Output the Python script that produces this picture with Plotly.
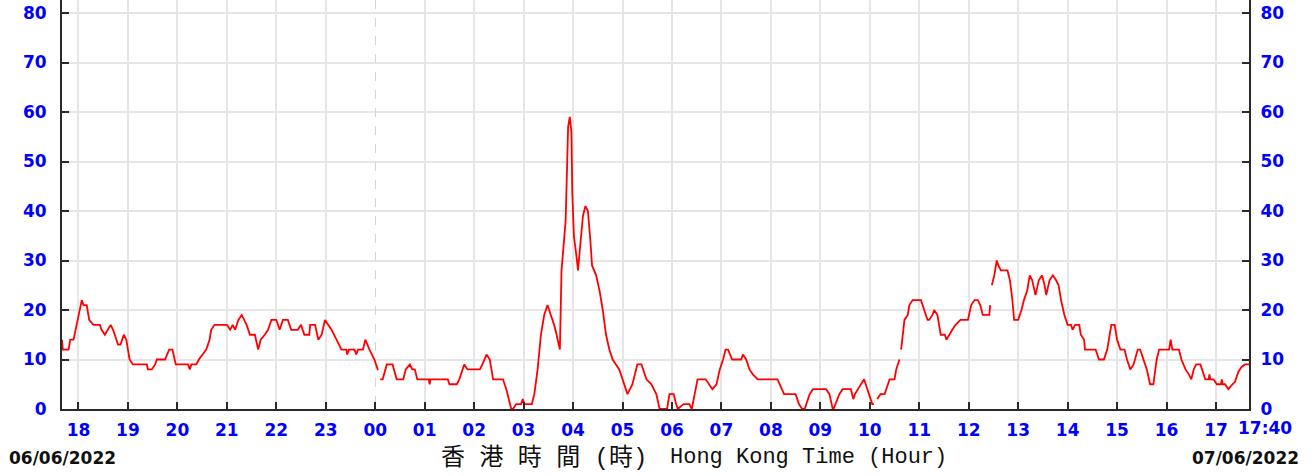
import pandas as pd
import plotly.graph_objects as go

# Wind speed record, 06/06/2022 17:40 to 07/06/2022 17:40 (Hong Kong Time)
START = "2022-06-06 17:40"
END = "2022-06-07 17:40"

times = [
    "17:40", "17:41", "17:48", "17:50", "17:54", "18:00", "18:04", "18:06", "18:10", "18:13",
    "18:18", "18:26", "18:28", "18:32", "18:35", "18:39", "18:42", "18:46", "18:48", "18:51",
    "18:55", "18:58", "19:02", "19:06", "19:23", "19:24", "19:29", "19:33", "19:35", "19:45",
    "19:48", "19:50", "19:54", "19:58", "20:13", "20:15", "20:17", "20:23", "20:26", "20:31",
    "20:35", "20:39", "20:41", "20:45", "20:51", "21:00", "21:04", "21:07", "21:10", "21:14",
    "21:18", "21:24", "21:28", "21:34", "21:38", "21:41", "21:46", "21:50", "21:54", "22:00",
    "22:04", "22:08", "22:14", "22:18", "22:26", "22:30", "22:34", "22:40", "22:41", "22:47",
    "22:51", "22:55", "22:59", "23:03", "23:07", "23:13", "23:19", "23:25", "23:26", "23:28",
    "23:35", "23:37", "23:39", "23:45", "23:48", "23:53", "23:59", "00:03", "00:04", "00:05",
    "00:06", "00:09", "00:14", "00:21", "00:26", "00:34", "00:37", "00:42", "00:45", "00:48",
    "00:51", "01:05", "01:06", "01:07", "01:28", "01:30", "01:39", "01:42", "01:44", "01:48",
    "01:52", "02:07", "02:10", "02:15", "02:19", "02:23", "02:35", "02:39", "02:45", "02:47",
    "02:51", "02:57", "02:59", "03:01", "03:10", "03:13", "03:17", "03:21", "03:25", "03:29",
    "03:33", "03:37", "03:40", "03:43", "03:44", "03:45", "03:46", "03:51", "03:53", "03:54",
    "03:56", "03:58", "03:59", "04:01", "04:04", "04:06", "04:07", "04:10", "04:12", "04:15",
    "04:18", "04:21", "04:23", "04:28", "04:32", "04:36", "04:40", "04:44", "04:48", "04:52",
    "04:56", "05:00", "05:06", "05:12", "05:18", "05:23", "05:29", "05:35", "05:41", "05:45",
    "05:54", "05:57", "06:02", "06:05", "06:07", "06:14", "06:21", "06:24", "06:31", "06:41",
    "06:49", "06:54", "06:58", "07:02", "07:05", "07:08", "07:13", "07:24", "07:26", "07:30",
    "07:34", "07:38", "07:44", "08:08", "08:14", "08:16", "08:30", "08:34", "08:38", "08:41",
    "08:47", "08:51", "09:07", "09:11", "09:15", "09:16", "09:23", "09:27", "09:37", "09:40",
    "09:42", "09:49", "09:53", "09:57", "10:01", "10:03", "10:05", "10:07", "10:09", "10:13",
    "10:18", "10:24", "10:30", "10:32", "10:36", "10:37", "10:38", "10:40", "10:42", "10:46",
    "10:48", "10:52", "11:02", "11:06", "11:10", "11:12", "11:16", "11:18", "11:22", "11:26",
    "11:31", "11:33", "11:36", "11:40", "11:44", "11:50", "11:54", "11:59", "12:03", "12:07",
    "12:11", "12:14", "12:17", "12:25", "12:26", "12:27", "12:28", "12:31", "12:34", "12:36",
    "12:39", "12:47", "12:50", "12:53", "12:55", "13:00", "13:04", "13:07", "13:11", "13:14",
    "13:17", "13:21", "13:25", "13:29", "13:32", "13:34", "13:38", "13:42", "13:46", "13:49",
    "13:52", "13:56", "14:00", "14:04", "14:06", "14:09", "14:14", "14:16", "14:20", "14:21",
    "14:34", "14:38", "14:44", "14:48", "14:51", "14:53", "14:57", "15:00", "15:04", "15:09",
    "15:12", "15:16", "15:20", "15:25", "15:28", "15:32", "15:36", "15:40", "15:44", "15:48",
    "15:51", "16:03", "16:05", "16:07", "16:15", "16:18", "16:23", "16:27", "16:30", "16:33",
    "16:36", "16:41", "16:43", "16:47", "16:51", "16:52", "16:53", "16:57", "17:01", "17:06",
    "17:07", "17:08", "17:11", "17:15", "17:20", "17:23", "17:27", "17:31", "17:35", "17:40",
]

speeds = [
    14, 12, 12, 14, 14, 19, 22, 21, 21, 18,
    17, 17, 16, 15, 16, 17, 16, 14, 13, 13,
    15, 14, 10, 9, 9, 8, 8, 9, 10, 10,
    11, 12, 12, 9, 9, 8, 9, 9, 10, 11,
    12, 14, 16, 17, 17, 17, 16, 17, 16, 18,
    19, 17, 15, 15, 12, 14, 15, 16, 18, 18,
    16, 18, 18, 16, 16, 17, 15, 15, 17, 17,
    14, 15, 18, 17, 16, 14, 12, 12, 11, 12,
    12, 11, 12, 12, 14, 12, 10, 8, 8, None,
    6, 6, 9, 9, 6, 6, 8, 9, 8, 8,
    6, 6, 5, 6, 6, 5, 5, 6, 7, 9,
    8, 8, 9, 11, 10, 6, 6, 4, 0, 0,
    1, 1, 2, 1, 1, 3, 8, 15, 19, 21,
    19, 17, 15, 13, 12, 20, 28, 38, 49, 57,
    59, 56, 44, 35, 31, 28, 30, 35, 39, 41,
    40, 34, 29, 27, 24, 20, 15, 12, 10, 9,
    8, 6, 3, 5, 9, 9, 6, 5, 3, 0,
    0, 3, 3, 1, 0, 1, 1, 0, 6, 6,
    4, 5, 8, 10, 12, 12, 10, 10, 11, 10,
    8, 7, 6, 6, 4, 3, 3, 1, 0, 0,
    3, 4, 4, 3, 0, 0, 3, 4, 4, 2,
    3, 5, 6, 4, 2, 1, 1, None, 2, 3,
    3, 6, 6, 8, 10, None, 12, 15, 18, 19,
    21, 22, 22, 20, 18, 18, 19, 20, 19, 15,
    15, 14, 15, 16, 17, 18, 18, 18, 21, 22,
    22, 21, 19, 19, 21, None, 25, 27, 30, 29,
    28, 28, 26, 22, 18, 18, 20, 22, 24, 27,
    26, 23, 26, 27, 25, 23, 26, 27, 26, 25,
    22, 19, 17, 17, 16, 17, 17, 15, 14, 12,
    12, 10, 10, 12, 15, 17, 17, 14, 12, 12,
    10, 8, 9, 12, 12, 10, 8, 5, 5, 10,
    12, 12, 14, 12, 12, 10, 8, 7, 6, 8,
    9, 9, 8, 6, 6, 7, 6, 6, 5, 5,
    6, 5, 5, 4, 5, 5.5, 7.5, 8.5, 9, 9,
]

y_ticks = [0, 10, 20, 30, 40, 50, 60, 70, 80]
left_date = "06/06/2022"
right_date = "07/06/2022"
end_label = "17:40"
title_zh = "香 港 時 間 (時)"
title_en = "Hong Kong Time (Hour)"

# Turn HH:MM readings into timestamps, rolling over at midnight
stamps = []
day = pd.Timestamp("2022-06-06")
prev = None
for t in times:
    if prev is not None and t < prev:
        day += pd.Timedelta(days=1)
    stamps.append(day + pd.Timedelta(hours=int(t[:2]), minutes=int(t[3:])))
    prev = t

hours = pd.date_range("2022-06-06 18:00", "2022-06-07 17:00", freq="h")
hour_text = [h.strftime("%H") for h in hours]
midnight = pd.Timestamp("2022-06-07 00:00")
solid_grid_hours = [h for h in hours if h != midnight]

BLUE = "#0000ff"
AXIS = "#2a2a2a"
GRID = "#e6e6e6"
tick_font = dict(family="DejaVu Sans", size=17, color=BLUE, weight="bold")

fig = go.Figure()
# empty traces so the overlay axes (hour grid, midnight grid, right scale) get drawn
fig.add_trace(go.Scatter(x=[], y=[], xaxis="x2", yaxis="y", mode="lines",
                         hoverinfo="skip", showlegend=False))
fig.add_trace(go.Scatter(x=[], y=[], xaxis="x3", yaxis="y", mode="lines",
                         hoverinfo="skip", showlegend=False))
fig.add_trace(go.Scatter(x=[], y=[], xaxis="x", yaxis="y2", mode="lines",
                         hoverinfo="skip", showlegend=False))
fig.add_trace(go.Scatter(
    x=stamps, y=speeds, mode="lines",
    line=dict(color="#ff0000", width=1.8),
    connectgaps=False, hoverinfo="skip", showlegend=False,
))

fig.update_layout(
    width=1316, height=476,
    margin=dict(l=62, r=67, t=0, b=67, autoexpand=False),
    paper_bgcolor="white", plot_bgcolor="white",
    showlegend=False,
    xaxis=dict(
        type="date", range=[START, END],
        tickmode="array", tickvals=list(hours), ticktext=hour_text,
        ticks="inside", ticklen=7, tickwidth=2, tickcolor=AXIS,
        showline=True, linecolor=AXIS, linewidth=2,
        showgrid=False, zeroline=False, tickfont=tick_font,
        ticklabelstandoff=5,
    ),
    xaxis2=dict(
        type="date", range=[START, END], overlaying="x", anchor="y",
        tickmode="array", tickvals=solid_grid_hours,
        showgrid=True, gridcolor=GRID, gridwidth=2,
        showticklabels=False, ticks="", showline=False, zeroline=False,
    ),
    xaxis3=dict(
        type="date", range=[START, END], overlaying="x", anchor="y",
        tickmode="array", tickvals=[midnight],
        showgrid=True, gridcolor="#d4d4d4", gridwidth=1, griddash="dash",
        showticklabels=False, ticks="", showline=False, zeroline=False,
    ),
    yaxis=dict(
        range=[0, 82.63], tickmode="array", tickvals=y_ticks,
        ticks="inside", ticklen=7, tickwidth=2, tickcolor=AXIS,
        showline=True, linecolor=AXIS, linewidth=2,
        showgrid=True, gridcolor=GRID, gridwidth=2, zeroline=False,
        tickfont=tick_font, ticklabelstandoff=10,
    ),
    yaxis2=dict(
        range=[0, 82.63], overlaying="y", side="right", anchor="x",
        tickmode="array", tickvals=y_ticks,
        ticks="inside", ticklen=7, tickwidth=2, tickcolor=AXIS,
        showline=True, linecolor=AXIS, linewidth=2,
        showgrid=False, zeroline=False,
        tickfont=tick_font, ticklabelstandoff=6,
    ),
)

date_font = dict(family="DejaVu Sans", size=17, color="#111111", weight="bold")
fig.add_annotation(text=end_label, xref="paper", yref="paper", x=1, y=0,
                   xanchor="left", yanchor="middle", xshift=-13, yshift=-19,
                   showarrow=False, font=tick_font)
fig.add_annotation(text=left_date, xref="paper", yref="paper", x=0, y=0,
                   xanchor="left", yanchor="middle", xshift=-55, yshift=-49,
                   showarrow=False, font=date_font)
fig.add_annotation(text=right_date, xref="paper", yref="paper", x=1, y=0,
                   xanchor="right", yanchor="middle", xshift=52, yshift=-49,
                   showarrow=False, font=date_font)
fig.add_annotation(text=title_zh, xref="paper", yref="paper", x=0.4945, y=0,
                   xanchor="right", yanchor="middle", yshift=-49,
                   showarrow=False,
                   font=dict(family="Liberation Mono, Noto Sans CJK TC", size=24, color="#111111"))
fig.add_annotation(text=title_en, xref="paper", yref="paper", x=0.5105, y=0,
                   xanchor="left", yanchor="middle", yshift=-48,
                   showarrow=False,
                   font=dict(family="Liberation Mono", size=22, color="#111111"))

fig.write_html("out.html")
